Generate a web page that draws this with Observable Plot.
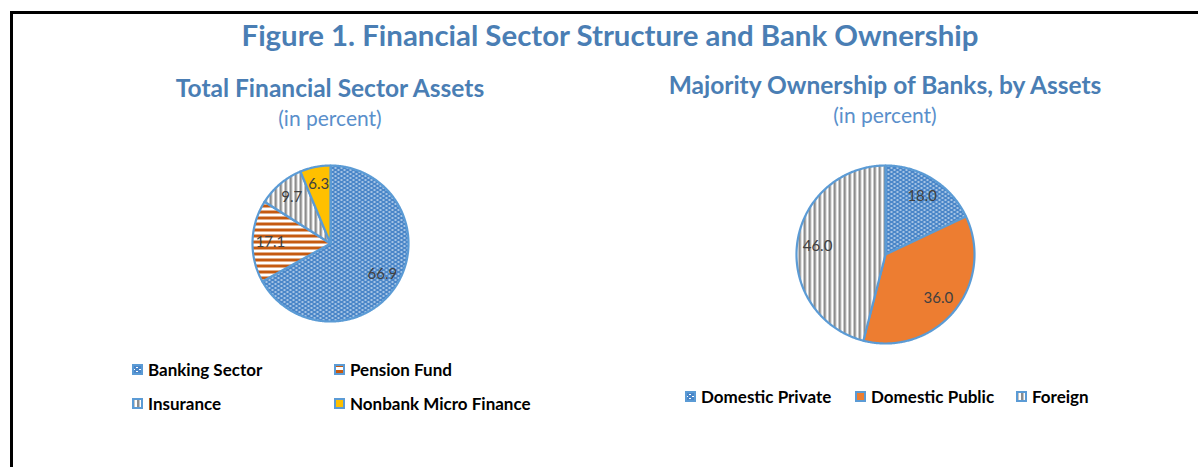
<!DOCTYPE html>
<html><head><meta charset="utf-8">
<script src="https://cdn.jsdelivr.net/npm/d3@7"></script>
<script src="https://cdn.jsdelivr.net/npm/@observablehq/plot@0.6"></script>
<style>
body{margin:0;background:#fff;font-family:Lato,"Open Sans",sans-serif;}
#wrap{position:relative;width:1198px;height:467px;overflow:hidden;background:#fff;}
#frame{position:absolute;left:10px;top:11px;width:1300px;height:600px;border-top:3px solid #000;border-left:3px solid #000;}
.t{position:absolute;text-align:center;white-space:nowrap;}
.leg{position:absolute;display:flex;align-items:center;font-weight:bold;font-size:17px;color:#000;white-space:nowrap;}
.leg svg{margin-right:5px;flex:none;}
.pie{position:absolute;}
</style></head>
<body>
<div id="wrap">
<div id="frame"></div>
<svg width="0" height="0" style="position:absolute">
<defs>
<pattern id="pDots" width="6" height="4" patternUnits="userSpaceOnUse">
<rect width="6" height="4" fill="#4A86C8"/>
<rect x="1" y="1" width="2" height="1" fill="#fff"/>
<rect x="4" y="3" width="2" height="1" fill="#fff"/>
</pattern>
<pattern id="pHoriz" width="6" height="6" patternUnits="userSpaceOnUse">
<rect width="6" height="6" fill="#fff"/>
<rect y="0" width="6" height="3" fill="#C55A11"/>
</pattern>
<pattern id="pVert" width="5" height="5" patternUnits="userSpaceOnUse">
<rect width="5" height="5" fill="#fff"/>
<rect x="0" width="2.5" height="5" fill="#8C8C8C"/>
</pattern>
</defs>
</svg>
</div>
<script>
// ---- data ----
const finCategories = ["Banking Sector", "Pension Fund", "Insurance", "Nonbank Micro Finance"];
const finValues = [66.9, 17.1, 9.7, 6.3];
const ownCategories = ["Domestic Private", "Domestic Public", "Foreign"];
const ownValues = [18.0, 36.0, 46.0];

// ---- styles ----
const fills = {
  "Banking Sector": "url(#pDots)",
  "Pension Fund": "url(#pHoriz)",
  "Insurance": "url(#pVert)",
  "Nonbank Micro Finance": "#FFC000",
  "Domestic Private": "url(#pDots)",
  "Domestic Public": "#ED7D31",
  "Foreign": "url(#pVert)"
};
const BORDER = "#5B9BD5";
const wrap = document.getElementById("wrap");

function slices(cats, vals) {
  const arcs = d3.pie().sort(null).value(d => d)(vals);
  const pts = [], labels = [];
  arcs.forEach((a, i) => {
    const n = Math.max(2, Math.ceil((a.endAngle - a.startAngle) / 0.01));
    pts.push({cat: cats[i], x: 0, y: 0});
    for (let k = 0; k <= n; k++) {
      const t = a.startAngle + (a.endAngle - a.startAngle) * k / n;
      pts.push({cat: cats[i], x: Math.sin(t), y: Math.cos(t)});
    }
    pts.push({cat: cats[i], x: 0, y: 0});
    const m = (a.startAngle + a.endAngle) / 2;
    labels.push({x: 0.77 * Math.sin(m), y: 0.77 * Math.cos(m), text: vals[i].toFixed(1)});
  });
  return {pts, labels};
}

function pie(cats, vals, cx, cy, R) {
  const {pts, labels} = slices(cats, vals);
  const m = 3, S = 2 * R + 2 * m;
  const chart = Plot.plot({
    width: S, height: S, margin: m,
    x: {domain: [-1, 1], axis: null},
    y: {domain: [-1, 1], axis: null},
    color: {type: "identity"},
    marks: [
      Plot.line(pts, {x: "x", y: "y", z: "cat", fill: d => fills[d.cat], stroke: BORDER, strokeWidth: 2.2, strokeLinejoin: "round", curve: "linear"}),
      Plot.text(labels, {x: "x", y: "y", text: "text", fill: "#404040", fontSize: 15, fontFamily: "Lato, sans-serif"})
    ]
  });
  chart.classList.add("pie");
  chart.style.left = (cx - S / 2) + "px";
  chart.style.top = (cy - S / 2) + "px";
  chart.style.overflow = "visible";
  wrap.appendChild(chart);
}

function text(str, cx, cy, size, weight, color) {
  const d = document.createElement("div");
  d.className = "t";
  d.textContent = str;
  d.style.fontSize = size + "px";
  d.style.lineHeight = (size * 1.2) + "px";
  d.style.fontWeight = weight;
  d.style.color = color;
  d.style.width = "800px";
  d.style.left = (cx - 400) + "px";
  d.style.top = (cy - size * 0.6) + "px";
  wrap.appendChild(d);
}

function swatch(cat) {
  const ns = "http://www.w3.org/2000/svg";
  const s = document.createElementNS(ns, "svg");
  s.setAttribute("width", 11); s.setAttribute("height", 11);
  const r = document.createElementNS(ns, "rect");
  r.setAttribute("x", 1); r.setAttribute("y", 1);
  r.setAttribute("width", 9); r.setAttribute("height", 9);
  r.setAttribute("fill", fills[cat]);
  r.setAttribute("stroke", BORDER); r.setAttribute("stroke-width", 2);
  s.appendChild(r);
  return s;
}
function legendItem(cat, x, cy) {
  const d = document.createElement("div");
  d.className = "leg";
  d.style.left = x + "px";
  d.style.top = (cy - 10) + "px";
  d.style.height = "20px";
  d.appendChild(swatch(cat));
  d.appendChild(document.createTextNode(cat));
  wrap.appendChild(d);
}

text("Figure 1. Financial Sector Structure and Bank Ownership", 610, 35, 29.4, "bold", "#4A7EB4");
text("Total Financial Sector Assets", 330, 88, 24.5, "bold", "#4A7EB4");
text("(in percent)", 330, 118, 21, "normal", "#5A8FCB");
text("Majority Ownership of Banks, by Assets", 885, 85, 24.5, "bold", "#4A7EB4");
text("(in percent)", 885, 115, 21, "normal", "#5A8FCB");

pie(finCategories, finValues, 330, 243, 78);
pie(ownCategories, ownValues, 885, 254, 89);

const leftLegX = [132, 334], leftLegY = [369, 403];
finCategories.forEach((c, i) => legendItem(c, leftLegX[i % 2], leftLegY[Math.floor(i / 2)]));
const rightLegX = [685, 855, 1016];
ownCategories.forEach((c, i) => legendItem(c, rightLegX[i], 396));
</script>
</body></html>
